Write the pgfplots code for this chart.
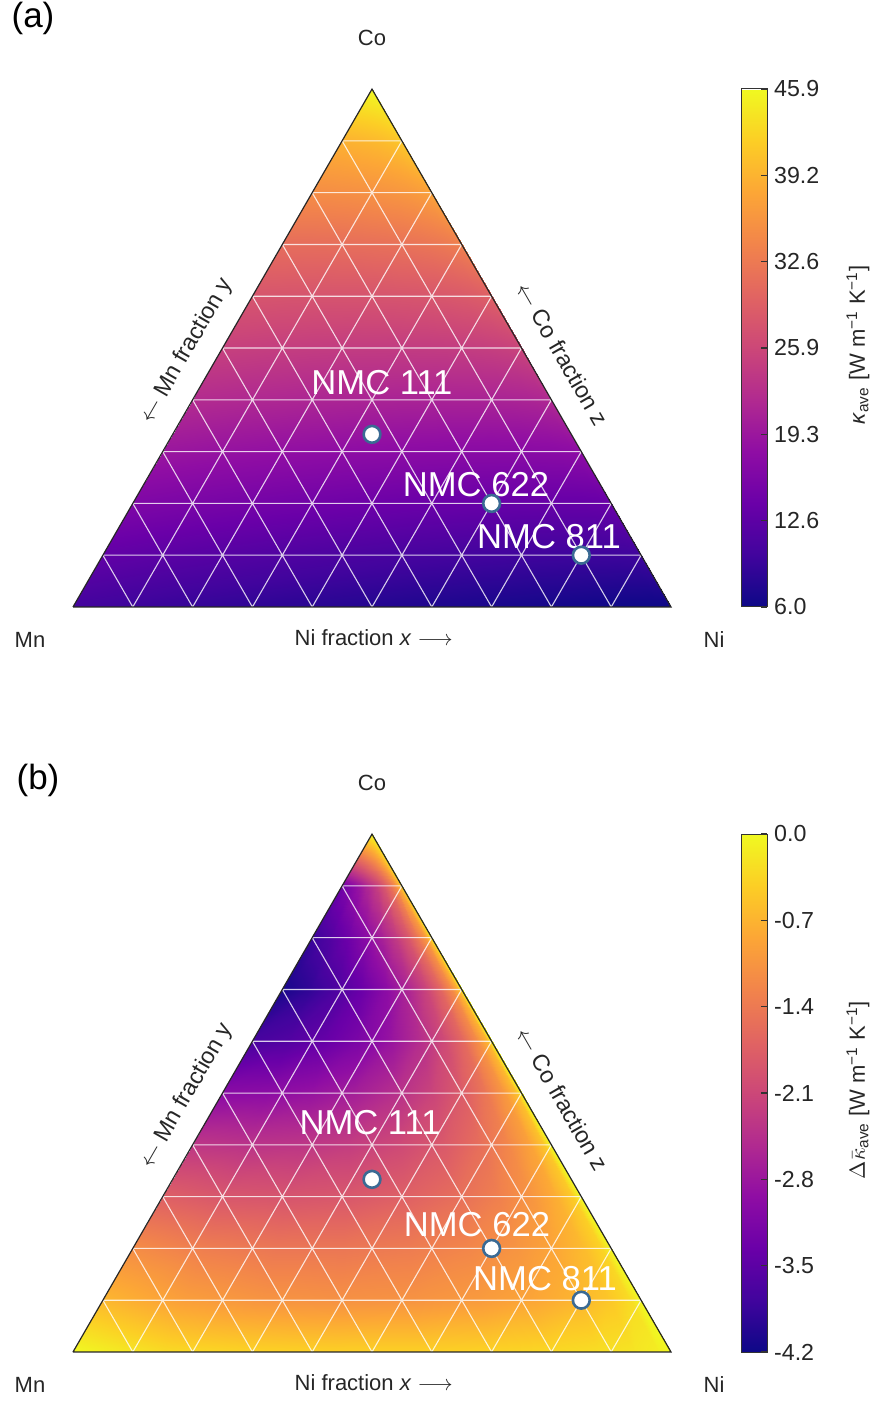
\documentclass[border=0pt]{standalone}
\usepackage{pgfplots}
\pgfplotsset{compat=1.18}
\usepackage{pgfplotstable}
\usepackage{fontspec}
\setmainfont{Liberation Sans}
\definecolor{mkedge}{RGB}{58,106,148}
\definecolor{txt}{RGB}{38,38,38}
\pgfplotsset{colormap={plasma}{rgb255=(13,8,135) rgb255=(65,4,157) rgb255=(106,0,168) rgb255=(143,13,164) rgb255=(177,42,144) rgb255=(204,71,120) rgb255=(225,100,98) rgb255=(242,132,75) rgb255=(252,166,54) rgb255=(252,206,37) rgb255=(240,249,33)}}
\newcommand\lblfont{\fontsize{11}{13}\selectfont}
\newcommand\sidefont{\fontsize{11.6}{13}\selectfont}
\newcommand\tickfont{\fontsize{11.6}{13}\selectfont}
\newcommand\nmcfont{\fontsize{17.3}{20}\selectfont}
\newcommand\panfont{\fontsize{17.5}{20}\selectfont}

% ternary fractions: x = Ni, z = Co (Mn = 1-x-z); ka = kappa_ave, db = Delta kappa
\pgfplotstableread{
x z ka db
1 0 6.00 0
0.98 0 6.00 -0.11
0.94 0 6.06 -0.19
0.88 0 6.24 -0.26
0.8 0 6.52 -0.32
0.7 0 6.89 -0.37
0.58 0 7.37 -0.40
0.44 0 7.96 -0.40
0.3 0 8.57 -0.37
0.15 0 9.28 -0.29
0 0 10.20 0
0.9 0.1 10.00 0
0.882 0.1 9.77 -0.29
0.846 0.1 9.72 -0.50
0.792 0.1 9.76 -0.68
0.72 0.1 9.90 -0.85
0.63 0.1 10.15 -0.98
0.522 0.1 10.51 -1.07
0.396 0.1 11.01 -1.10
0.27 0.1 11.57 -1.06
0.135 0.1 12.27 -0.93
0 0.1 13.11 -0.66
0.8 0.2 13.98 0
0.784 0.2 13.68 -0.36
0.752 0.2 13.56 -0.62
0.704 0.2 13.53 -0.85
0.64 0.2 13.59 -1.06
0.56 0.2 13.75 -1.24
0.464 0.2 14.02 -1.37
0.352 0.2 14.42 -1.44
0.24 0.2 14.89 -1.44
0.12 0.2 15.48 -1.35
0 0.2 16.18 -1.16
0.7 0.3 17.97 0
0.686 0.3 17.58 -0.45
0.658 0.3 17.38 -0.76
0.616 0.3 17.27 -1.05
0.56 0.3 17.24 -1.32
0.49 0.3 17.30 -1.55
0.406 0.3 17.47 -1.73
0.308 0.3 17.76 -1.86
0.21 0.3 18.13 -1.90
0.105 0.3 18.60 -1.87
0 0.3 19.17 -1.74
0.6 0.4 21.96 0
0.588 0.4 21.49 -0.52
0.564 0.4 21.23 -0.89
0.528 0.4 21.03 -1.23
0.48 0.4 20.92 -1.54
0.42 0.4 20.89 -1.83
0.348 0.4 20.96 -2.06
0.264 0.4 21.13 -2.24
0.18 0.4 21.38 -2.34
0.09 0.4 21.73 -2.38
0 0.4 22.15 -2.33
0.5 0.5 25.95 0
0.49 0.5 25.40 -0.60
0.47 0.5 25.05 -1.02
0.44 0.5 24.78 -1.43
0.4 0.5 24.57 -1.80
0.35 0.5 24.44 -2.14
0.29 0.5 24.39 -2.44
0.22 0.5 24.43 -2.69
0.15 0.5 24.56 -2.86
0.075 0.5 24.77 -2.97
0 0.5 25.05 -3.00
0.4 0.6 29.94 0
0.392 0.6 29.30 -0.68
0.376 0.6 28.88 -1.16
0.352 0.6 28.52 -1.63
0.32 0.6 28.21 -2.06
0.28 0.6 27.97 -2.47
0.232 0.6 27.81 -2.84
0.176 0.6 27.71 -3.17
0.12 0.6 27.70 -3.41
0.06 0.6 27.77 -3.60
0 0.6 27.90 -3.72
0.3 0.7 33.93 0
0.294 0.7 33.26 -0.70
0.282 0.7 32.81 -1.20
0.264 0.7 32.40 -1.68
0.24 0.7 32.05 -2.14
0.21 0.7 31.73 -2.58
0.174 0.7 31.47 -2.99
0.132 0.7 31.27 -3.37
0.09 0.7 31.15 -3.67
0.045 0.7 31.08 -3.92
0 0.7 31.07 -4.12
0.2 0.8 37.92 0
0.196 0.8 37.33 -0.61
0.188 0.8 36.93 -1.05
0.176 0.8 36.55 -1.47
0.16 0.8 36.21 -1.88
0.14 0.8 35.89 -2.28
0.116 0.8 35.61 -2.66
0.088 0.8 35.36 -3.03
0.06 0.8 35.18 -3.33
0.03 0.8 35.03 -3.61
0 0.8 34.92 -3.84
0.1 0.9 41.91 0
0.098 0.9 41.43 -0.49
0.094 0.9 41.09 -0.85
0.088 0.9 40.76 -1.20
0.08 0.9 40.45 -1.54
0.07 0.9 40.16 -1.88
0.058 0.9 39.88 -2.21
0.044 0.9 39.62 -2.53
0.03 0.9 39.40 -2.81
0.015 0.9 39.20 -3.07
0 0.9 39.03 -3.30
0 1 45.90 0
0 1 45.90 0
0 1 45.90 0
0 1 45.90 0
0 1 45.90 0
0 1 45.90 0
0 1 45.90 0
0 1 45.90 0
0 1 45.90 0
0 1 45.90 0
0 1 45.90 0
}\heat

\pgfplotstableread{
x z
0 0.1
0.9 0.1
nan nan
0 0.2
0.8 0.2
nan nan
0 0.3
0.7 0.3
nan nan
0 0.4
0.6 0.4
nan nan
0 0.5
0.5 0.5
nan nan
0 0.6
0.4 0.6
nan nan
0 0.7
0.3 0.7
nan nan
0 0.8
0.2 0.8
nan nan
0 0.9
0.1 0.9
nan nan
0.1 0
0.1 0.9
nan nan
0.2 0
0.2 0.8
nan nan
0.3 0
0.3 0.7
nan nan
0.4 0
0.4 0.6
nan nan
0.5 0
0.5 0.5
nan nan
0.6 0
0.6 0.4
nan nan
0.7 0
0.7 0.3
nan nan
0.8 0
0.8 0.2
nan nan
0.9 0
0.9 0.1
nan nan
0.9 0
0 0.9
nan nan
0.8 0
0 0.8
nan nan
0.7 0
0 0.7
nan nan
0.6 0
0 0.6
nan nan
0.5 0
0 0.5
nan nan
0.4 0
0 0.4
nan nan
0.3 0
0 0.3
nan nan
0.2 0
0 0.2
nan nan
0.1 0
0 0.1
}\gridtab

\pgfplotstableread{
x z
0 0
1 0
0 1
0 0
}\outline

\pgfplotstableread{
x z
0.33333 0.33333
0.6 0.2
0.8 0.1
}\nmc

\pgfplotsset{
  tern/.style={
    anchor=south west, x=299pt, y=299pt,
    xmin=0, xmax=1, ymin=0, ymax=0.866025,
    hide axis, clip=false, colormap name=plasma,
    colorbar,
    colorbar style={
      at={(parent axis.south east)}, anchor=south west, xshift=26.5pt,
      width=13pt, height=259pt, scale only axis,
      tick align=inside, major tick length=3.2pt, ytick pos=right,
      yticklabel style={font=\tickfont, text=txt},
      ytick style={draw=black!80, line width=0.6pt},
      axis line style={draw=black!80, line width=0.5pt},
    },
  },
  heat/.style={patch, patch type=rectangle, mesh input=lattice, mesh/cols=11, shader=interp},
  gridl/.style={draw=white, draw opacity=0.8, line width=0.55pt, unbounded coords=jump},
  mk/.style={only marks, mark=*, mark size=4.2pt, mark options={fill=white, draw=mkedge, line width=1.3pt}},
}

\begin{document}
\begin{tikzpicture}
\path[use as bounding box] (0,0) rectangle (439pt,700.5pt);

% ---------------- (a) ----------------
\begin{axis}[tern, at={(36.5pt,397pt)},
  point meta min=6.0, point meta max=45.9,
  colorbar style={ytick={6,12.65,19.3,25.95,32.6,39.25,45.9},
    yticklabels={6.0,12.6,19.3,25.9,32.6,39.2,45.9}}]
\addplot[heat, point meta=\thisrow{ka}] table[x expr={\thisrow{x}+0.5*\thisrow{z}}, y expr={0.866025*\thisrow{z}}] {\heat};
\addplot[gridl] table[x expr={\thisrow{x}+0.5*\thisrow{z}}, y expr={0.866025*\thisrow{z}}] {\gridtab};
\addplot[draw=black!85, line width=0.6pt] table[x expr={\thisrow{x}+0.5*\thisrow{z}}, y expr={0.866025*\thisrow{z}}] {\outline};
\addplot[mk] table[x expr={\thisrow{x}+0.5*\thisrow{z}}, y expr={0.866025*\thisrow{z}}] {\nmc};
\node[font=\nmcfont, text=white] at (axis cs:0.5167,0.3746) {NMC 111};
\node[font=\nmcfont, text=white] at (axis cs:0.6739,0.2040) {NMC 622};
\node[font=\nmcfont, text=white] at (axis cs:0.7960,0.1171) {NMC 811};
\node[font=\panfont, text=black] at (axis cs:-0.0669,0.985) {(a)};
\node[font=\lblfont, text=txt] at (axis cs:0.5,0.9515) {Co};
\node[font=\lblfont, text=txt] at (axis cs:-0.0719,-0.0552) {Mn};
\node[font=\lblfont, text=txt] at (axis cs:1.072,-0.0552) {Ni};
\node[font=\lblfont, text=txt] at (axis cs:0.503,-0.052) {Ni fraction \textit{x} $\longrightarrow$};
\node[font=\sidefont, text=txt, rotate=60] at (axis cs:0.19,0.428) {$\leftarrow$ Mn fraction y};
\node[font=\sidefont, text=txt, rotate=-60] at (axis cs:0.818,0.423) {$\leftarrow$ Co fraction z};
\node[font=\lblfont, text=txt, rotate=90] at (axis cs:1.3127,0.438) {\textit{κ}\textsubscript{ave} [W m\textsuperscript{−1} K\textsuperscript{−1}]};
\end{axis}

% ---------------- (b) ----------------
\begin{axis}[tern, at={(36.5pt,24.5pt)},
  point meta min=-4.2, point meta max=0,
  colorbar style={ytick={-4.2,-3.5,-2.8,-2.1,-1.4,-0.7,0},
    yticklabels={-4.2,-3.5,-2.8,-2.1,-1.4,-0.7,0.0}}]
\addplot[heat, point meta=\thisrow{db}] table[x expr={\thisrow{x}+0.5*\thisrow{z}}, y expr={0.866025*\thisrow{z}}] {\heat};
\addplot[gridl] table[x expr={\thisrow{x}+0.5*\thisrow{z}}, y expr={0.866025*\thisrow{z}}] {\gridtab};
\addplot[draw=black!85, line width=0.6pt] table[x expr={\thisrow{x}+0.5*\thisrow{z}}, y expr={0.866025*\thisrow{z}}] {\outline};
\addplot[mk] table[x expr={\thisrow{x}+0.5*\thisrow{z}}, y expr={0.866025*\thisrow{z}}] {\nmc};
\node[font=\nmcfont, text=white] at (axis cs:0.4967,0.383) {NMC 111};
\node[font=\nmcfont, text=white] at (axis cs:0.6756,0.2124) {NMC 622};
\node[font=\nmcfont, text=white] at (axis cs:0.7893,0.122) {NMC 811};
\node[font=\panfont, text=black] at (axis cs:-0.0585,0.955) {(b)};
\node[font=\lblfont, text=txt] at (axis cs:0.5,0.9515) {Co};
\node[font=\lblfont, text=txt] at (axis cs:-0.0719,-0.0552) {Mn};
\node[font=\lblfont, text=txt] at (axis cs:1.072,-0.0552) {Ni};
\node[font=\lblfont, text=txt] at (axis cs:0.503,-0.052) {Ni fraction \textit{x} $\longrightarrow$};
\node[font=\sidefont, text=txt, rotate=60] at (axis cs:0.19,0.428) {$\leftarrow$ Mn fraction y};
\node[font=\sidefont, text=txt, rotate=-60] at (axis cs:0.818,0.423) {$\leftarrow$ Co fraction z};
\node[font=\lblfont, text=txt, rotate=90] at (axis cs:1.3127,0.438) {$\Delta\bar{\kappa}$\textsubscript{ave} [W m\textsuperscript{−1} K\textsuperscript{−1}]};
\end{axis}
\end{tikzpicture}
\end{document}
